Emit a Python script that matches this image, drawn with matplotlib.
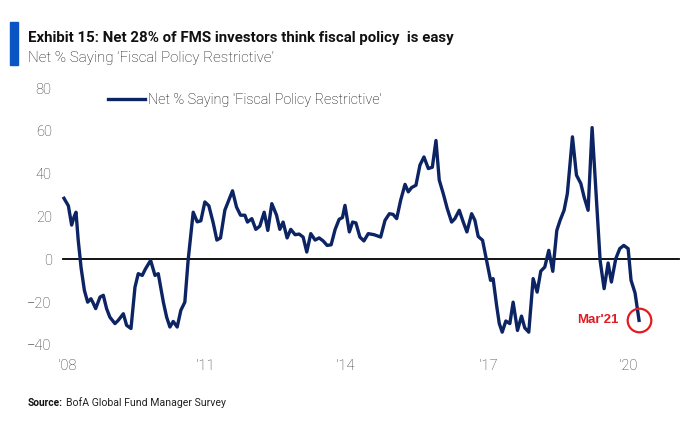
import matplotlib.pyplot as plt
from matplotlib.patches import Rectangle

# months since Jan 2008 and net % saying fiscal policy restrictive
months = [0.0, 1.2, 2.1, 2.8, 3.3, 3.9, 4.7, 5.6, 6.5, 7.4, 7.9, 8.7, 9.9, 10.8, 11.7,
          12.6, 14.0, 14.9, 16.3, 17.2, 18.4, 19.5, 20.4, 21.5, 22.4, 23.8, 25.0, 25.9,
          27.3, 28.2, 29.1, 30.0, 31.1, 32.1, 33.2, 34.1, 35.5, 36.6, 37.6, 38.7, 39.8,
          41.0, 42.0, 43.0, 44.2, 45.1, 46.3, 47.4, 48.5, 49.7, 50.4, 51.6, 52.7, 53.8,
          55.0, 56.0, 57.1, 58.4, 59.3, 60.2, 61.3, 62.3, 63.5, 64.6, 65.7, 66.7, 67.8,
          69.0, 70.1, 71.2, 72.3, 73.4, 74.5, 75.6, 76.5, 77.2, 78.4, 79.3, 80.2, 81.3,
          82.4, 83.6, 85.2, 87.0, 88.2, 89.4, 90.4, 91.4, 92.5, 93.7, 94.6, 95.5, 96.7,
          97.8, 98.9, 100.1, 101.2, 102.2, 103.1, 104.2, 105.3, 106.5, 107.4, 108.6,
          109.7, 110.7, 112.0, 112.9, 113.8, 115.0, 116.1, 117.2, 117.9, 118.9, 119.6,
          120.4, 121.4, 122.5, 123.4, 124.6, 125.7, 126.6, 127.7, 128.9, 130.0, 131.0,
          132.1, 133.2, 134.3, 135.4, 136.3, 137.4, 138.3, 139.7, 140.8, 142.0, 142.9,
          144.0, 145.1, 146.2, 147.3, 148.4, 149.5, 150.4, 151.6, 152.7, 153.8, 155.0,
          155.8, 156.9, 158.0]
net_pct = [28.5, 25, 16, 20, 22, 9, -4, -14.5, -20, -18.4, -20, -23, -17.6, -16.8, -23,
           -27, -30, -28.5, -25.4, -30.8, -32.3, -13, -6.7, -7.5, -4.4, -0.5, -7.5, -6.7,
           -20, -27, -31.6, -29, -31.6, -23.8, -20, -0.5, 22, 17.5, 18, 26.8, 25,
           17, 9, 10, 23, 26.8, 32, 24.4, 20.6, 20.6, 17.4, 19, 14, 15.5,
           22, 13.5, 26, 20.6, 14, 17.4, 10, 14, 11.5, 11.8, 10.4, 3.4, 12,
           9, 10, 8.6, 6.5, 6.8, 14, 18.7, 19.5, 25.2, 12.8, 17.4, 17, 10.4,
           8.6, 12, 11.5, 10.4, 18.2, 21.3, 21, 19, 27.6, 35, 31.5, 33.5, 34.6,
           44, 47.8, 42.4, 43, 55.5, 37, 30.7, 23.7, 17.4, 19, 22.9,
           17.4, 12.8, 21.3, 18.2, 10.7, 8.9, -0.5, -9.8, -9, -22, -30,
           -34, -28.8, -30, -20, -33.2, -26.5, -32, -34, -9, -15.3, -5.5,
           -3.6, 4.2, -5.6, 13.5, 18.2, 22.9, 30.7, 57.2, 39.3, 35.4, 29.1,
           22.9, 61.5, 30.7, -0.5, -13.7, -1.7, -10.6, 0.3, 5, 6.5, 5,
           -9.8, -15.7, -28.5]

tick_pos = [0.8, 38.7, 77.2, 116.5, 155.0]
tick_labels = ["'08", "'11", "'14", "'17", "'20"]
y_ticks = [-40, -20, 0, 20, 40, 60, 80]

NAVY = '#0c2463'
RED = '#e01b22'
W, H = 687, 426

fig = plt.figure(figsize=(W / 100, H / 100), dpi=100)
ax = fig.add_axes([60 / W, 1 - 345 / H, 622 / W, 257 / H])

ax.axhline(0, xmin=0.005, xmax=0.995, color='black', lw=1.3, zorder=1)
ax.plot(months, net_pct, color=NAVY, lw=2.4, solid_joinstyle='round',
        label="Net % Saying 'Fiscal Policy Restrictive'", zorder=2)

# highlight latest reading
ax.plot(months[-1], net_pct[-1], 'o', ms=17, mfc='none', mec=RED, mew=1.6,
        clip_on=False, zorder=3)
ax.annotate("Mar'21", (months[-1], net_pct[-1]), xytext=(-15, 0),
            textcoords='offset points', ha='right', va='center',
            color=RED, fontsize=9.5, fontweight='bold', family='Liberation Sans')

ax.set_xlim(-1.1, 169.8)
ax.set_ylim(-40, 80)
ax.set_yticks(y_ticks)
ax.set_xticks(tick_pos)
ax.set_xticklabels(tick_labels)
ax.tick_params(length=0, labelsize=10.5, colors='#333333')
ax.tick_params(axis='y', pad=6)
ax.tick_params(axis='x', pad=10)
for lab in ax.get_xticklabels() + ax.get_yticklabels():
    lab.set_family('Roboto')
    lab.set_weight('light')
for s in ax.spines.values():
    s.set_visible(False)

leg = ax.legend(loc='upper left', bbox_to_anchor=(0.056, 1.03), frameon=False,
                handlelength=2.6, handletextpad=0.2,
                prop={'family': 'Roboto', 'weight': 'light', 'size': 10.4})

# header
fig.patches.append(Rectangle((10 / W, 1 - 65 / H), 8 / W, 43 / H,
                             transform=fig.transFigure, color='#0a54c4'))
fig.text(28 / W, 1 - 38 / H, "Exhibit 15: Net 28% of FMS investors think fiscal policy  is easy",
         ha='left', va='center', fontsize=10.8, fontweight='bold', family='Roboto',
         color='#111111')
fig.text(28 / W, 1 - 58 / H, "Net % Saying \u2018Fiscal Policy Restrictive\u2019",
         ha='left', va='center', fontsize=10.9, family='Roboto', weight='light',
         color='#111111')

fig.text(28 / W, 1 - 403 / H, "Source:", ha='left', va='center', fontsize=7.3,
         fontweight='bold', family='Roboto', color='#111111')
fig.text(66 / W, 1 - 403 / H, "BofA Global Fund Manager Survey", ha='left', va='center',
         fontsize=7.6, family='Roboto', color='#222222')

fig.savefig('out.png', dpi=100)
